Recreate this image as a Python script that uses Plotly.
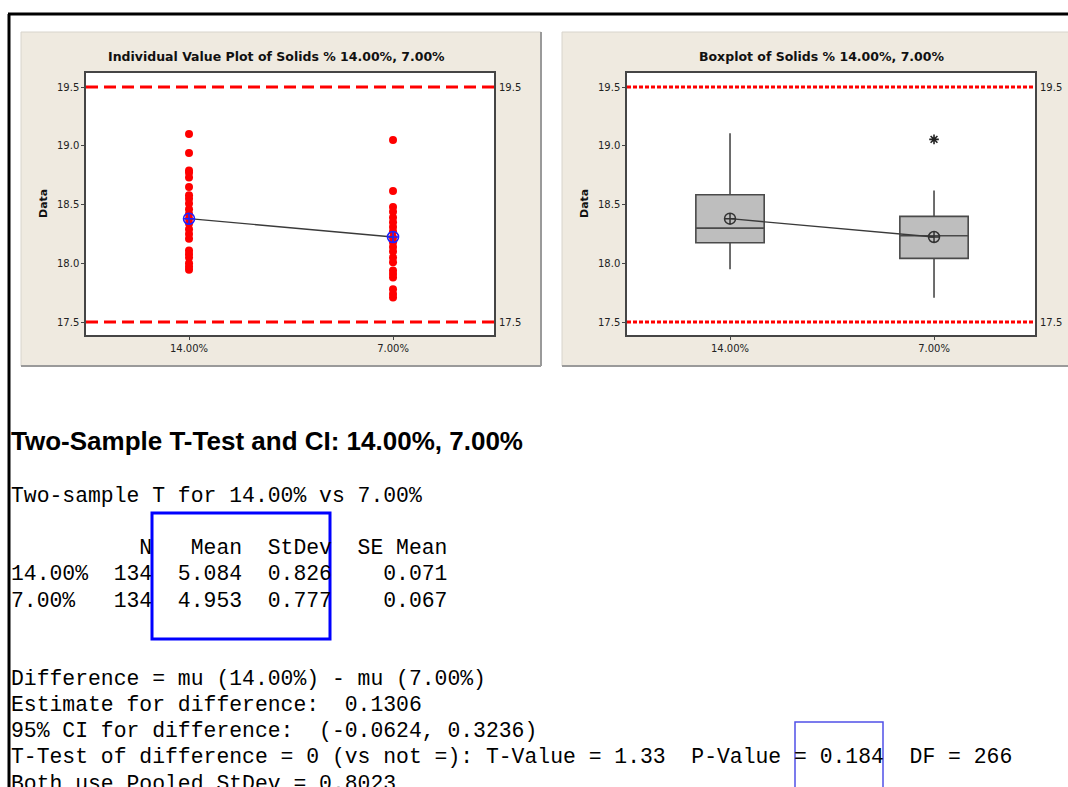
import plotly.graph_objects as go

W, H = 1068, 787

# ---- data -------------------------------------------------------------
categories = ["14.00%", "7.00%"]
cat_pos = [0, 1]

# distinct values of Solids % for each group
solids_14 = [19.10, 18.94, 18.79, 18.77, 18.73, 18.65, 18.58, 18.55, 18.51,
             18.46, 18.42, 18.38, 18.34, 18.29, 18.25, 18.21, 18.11, 18.08,
             18.05, 18.00, 17.97, 17.945]
solids_7 = [19.05, 18.615, 18.48, 18.44, 18.39, 18.35, 18.31, 18.27, 18.22,
            18.18, 18.14, 18.10, 18.05, 18.01, 17.94, 17.91, 17.88, 17.78,
            17.74, 17.71]
group_means = [18.38, 18.224]

# boxplot summary per group
box_q1 = [18.175, 18.042]
box_median = [18.30, 18.235]
box_q3 = [18.584, 18.40]
box_low = [17.95, 17.707]
box_high = [19.108, 18.62]
outlier_7 = [19.055]

# specification limits
spec_limits = [17.5, 19.5]
y_ticks = [17.5, 18.0, 18.5, 19.0, 19.5]

# two-sample t output
test_title = "Two-Sample T-Test and CI: 14.00%, 7.00%"
summary_lines = [
    "Two-sample T for 14.00% vs 7.00%",
    "",
    "          N   Mean  StDev  SE Mean",
    "14.00%  134  5.084  0.826    0.071",
    "7.00%   134  4.953  0.777    0.067",
]
diff_lines = [
    "Difference = mu (14.00%) - mu (7.00%)",
    "Estimate for difference:  0.1306",
    "95% CI for difference:  (-0.0624, 0.3236)",
    "T-Test of difference = 0 (vs not =): T-Value = 1.33  P-Value = 0.184  DF = 266",
    "Both use Pooled StDev = 0.8023",
]


# ---- helpers ----------------------------------------------------------
def px(x):
    return x / W


def py(y):
    return 1 - y / H


PLOT_FONT = "DejaVu Sans"
MONO = "Liberation Mono"
BEIGE = "#EFEAE0"

fig = go.Figure()

# individual value plot
fig.add_trace(go.Scatter(
    x=[cat_pos[0]] * len(solids_14), y=solids_14, mode="markers",
    marker=dict(color="#FF0000", size=8), xaxis="x", yaxis="y",
    showlegend=False, hoverinfo="y"))
fig.add_trace(go.Scatter(
    x=[cat_pos[1]] * len(solids_7), y=solids_7, mode="markers",
    marker=dict(color="#FF0000", size=8), xaxis="x", yaxis="y",
    showlegend=False, hoverinfo="y"))
fig.add_trace(go.Scatter(
    x=cat_pos, y=group_means, mode="lines+markers",
    line=dict(color="#3a3a3a", width=1.3),
    marker=dict(symbol="circle-cross-open", size=11, color="#2020FF",
                line=dict(width=1.6)),
    xaxis="x", yaxis="y", showlegend=False))

# boxplot
fig.add_trace(go.Box(
    x=cat_pos, q1=box_q1, median=box_median, q3=box_q3,
    lowerfence=box_low, upperfence=box_high, width=0.335,
    fillcolor="#BEBEBE", line=dict(color="#4a4a4a", width=1.6),
    whiskerwidth=0, boxpoints=False, xaxis="x2", yaxis="y2",
    showlegend=False))
fig.add_trace(go.Scatter(
    x=cat_pos, y=group_means, mode="lines+markers",
    line=dict(color="#3a3a3a", width=1.3),
    marker=dict(symbol="circle-cross-open", size=11, color="#333333",
                line=dict(width=1.5)),
    xaxis="x2", yaxis="y2", showlegend=False))
fig.add_trace(go.Scatter(
    x=[cat_pos[1]] * len(outlier_7), y=outlier_7, mode="markers",
    marker=dict(symbol="asterisk-open", size=8, color="#222222",
                line=dict(width=1.6, color="#222222")),
    xaxis="x2", yaxis="y2", showlegend=False))

# ---- axes -------------------------------------------------------------
y_range = [17.39, 19.62]
x_range = [-0.505, 1.495]
left_dom = [px(86), px(494)]
right_dom = [px(627), px(1035)]
y_dom = [py(335), py(73)]

TICK_FONT = dict(family=PLOT_FONT, size=10, color="#222222")

common_x = dict(range=x_range, tickvals=cat_pos, ticktext=categories,
                showgrid=False, zeroline=False, showline=True, mirror=True,
                linecolor="#454545", linewidth=1.5, ticks="outside",
                ticklen=3, tickcolor="#454545", tickfont=TICK_FONT)
common_y = dict(range=y_range, tickvals=y_ticks, tickformat=".1f",
                showgrid=False, zeroline=False, showline=True, mirror=True,
                linecolor="#454545", linewidth=1.5, ticks="outside",
                ticklen=3, tickcolor="#454545", tickfont=TICK_FONT)

layout_axes = dict(
    xaxis=dict(domain=left_dom, anchor="y", **common_x),
    yaxis=dict(domain=y_dom, anchor="x", **common_y),
    xaxis2=dict(domain=right_dom, anchor="y2", **common_x),
    yaxis2=dict(domain=y_dom, anchor="x2", **common_y),
)

# ---- shapes -----------------------------------------------------------
shapes = []
# panel backgrounds
for x0, x1 in [(21, 541), (562, 1082)]:
    shapes.append(dict(type="rect", xref="paper", yref="paper",
                       x0=px(x0), x1=px(x1), y0=py(366), y1=py(32),
                       fillcolor=BEIGE, line=dict(color="#D8D4CC", width=1),
                       layer="below"))
    shapes.append(dict(type="line", xref="paper", yref="paper",
                       x0=px(x0), x1=px(x1), y0=py(366), y1=py(366),
                       line=dict(color="#9A9A9A", width=2), layer="below"))
    shapes.append(dict(type="line", xref="paper", yref="paper",
                       x0=px(x1), x1=px(x1), y0=py(366), y1=py(32),
                       line=dict(color="#9A9A9A", width=2), layer="below"))
# white plotting areas
for x0, x1 in [(86, 494), (627, 1035)]:
    shapes.append(dict(type="rect", xref="paper", yref="paper",
                       x0=px(x0), x1=px(x1), y0=py(335), y1=py(73),
                       fillcolor="white", line=dict(width=0), layer="below"))

# specification limit lines
for lim in spec_limits:
    shapes.append(dict(type="line", xref="x domain", yref="y",
                       x0=0, x1=1, y0=lim, y1=lim,
                       line=dict(color="#FF0000", width=3, dash="12px,6px")))
    shapes.append(dict(type="line", xref="x2 domain", yref="y2",
                       x0=0, x1=1, y0=lim, y1=lim,
                       line=dict(color="#FF0000", width=3, dash="4px,2px")))

# outer frame of the report
shapes.append(dict(type="line", xref="paper", yref="paper",
                   x0=px(8), x1=1, y0=py(14), y1=py(14),
                   line=dict(color="black", width=3)))
shapes.append(dict(type="line", xref="paper", yref="paper",
                   x0=px(9), x1=px(9), y0=py(14), y1=0,
                   line=dict(color="black", width=3)))

# highlight boxes on the text output
shapes.append(dict(type="rect", xref="paper", yref="paper",
                   x0=px(152), x1=px(330), y0=py(639), y1=py(513),
                   line=dict(color="#0000FF", width=3)))
shapes.append(dict(type="rect", xref="paper", yref="paper",
                   x0=px(795), x1=px(883), y0=py(800), y1=py(722),
                   line=dict(color="#5050E8", width=1.5)))

# ---- annotations ------------------------------------------------------
TITLE_FONT = dict(family=PLOT_FONT, size=12.5, color="#111111")
ann = []
ann.append(dict(text="<b>Individual Value Plot of Solids % 14.00%, 7.00%</b>",
                xref="paper", yref="paper", x=px(276), y=py(57),
                showarrow=False, xanchor="center", yanchor="middle",
                font=TITLE_FONT))
ann.append(dict(text="<b>Boxplot of Solids % 14.00%, 7.00%</b>",
                xref="paper", yref="paper", x=px(821), y=py(57),
                showarrow=False, xanchor="center", yanchor="middle",
                font=TITLE_FONT))
for xc in (43, 584):
    ann.append(dict(text="<b>Data</b>", xref="paper", yref="paper",
                    x=px(xc), y=py(204), textangle=-90, showarrow=False,
                    xanchor="center", yanchor="middle",
                    font=dict(family=PLOT_FONT, size=11, color="#111111")))
# right-hand spec labels
for xa, ya in (("x domain", "y"), ("x2 domain", "y2")):
    for lim in spec_limits:
        ann.append(dict(text=f"{lim:.1f}", xref=xa, yref=ya, x=1, y=lim,
                        xshift=3, showarrow=False, xanchor="left",
                        yanchor="middle", font=TICK_FONT))

ann.append(dict(text="<b>" + test_title + "</b>", xref="paper", yref="paper",
                x=px(9), y=py(441), showarrow=False, xanchor="left",
                yanchor="middle",
                font=dict(family="Liberation Sans", size=26, color="black")))

NB = "\u00a0"
summary_y = [496, 522, 548, 574, 601]
for line, yc in zip(summary_lines, summary_y):
    if not line:
        continue
    ann.append(dict(text=line.replace(" ", NB), xref="paper", yref="paper",
                    x=px(9), y=py(yc), showarrow=False, xanchor="left",
                    yanchor="middle",
                    font=dict(family=MONO, size=21.4, color="black")))
diff_y = [679, 705, 731, 757, 784]
for line, yc in zip(diff_lines, diff_y):
    ann.append(dict(text=line.replace(" ", NB), xref="paper", yref="paper",
                    x=px(9), y=py(yc), showarrow=False, xanchor="left",
                    yanchor="middle",
                    font=dict(family=MONO, size=21.4, color="black")))

fig.update_layout(
    width=W, height=H, margin=dict(l=0, r=0, t=0, b=0),
    paper_bgcolor="white", plot_bgcolor="rgba(0,0,0,0)",
    shapes=shapes, annotations=ann, showlegend=False,
    **layout_axes,
)

fig.write_html("out.html")
